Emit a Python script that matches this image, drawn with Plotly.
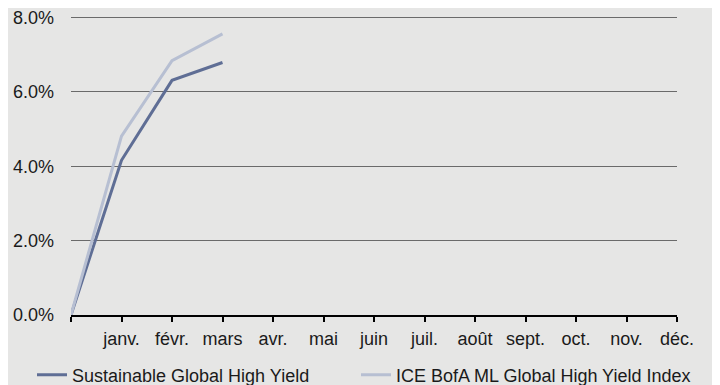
import plotly.graph_objects as go

# Data
month_labels = ["", "janv.", "févr.", "mars", "avr.", "mai", "juin", "juil.",
                "août", "sept.", "oct.", "nov.", "déc."]
month_pos = list(range(len(month_labels)))
obs_pos = [0, 1, 2, 3]
sustainable = [0.0, 4.16, 6.31, 6.79]
ice_index = [0.0, 4.81, 6.84, 7.56]
y_ticks = [0, 2, 4, 6, 8]

FONT = "Liberation Sans, Arial, sans-serif"
BG = "#e6e6e5"
W, H = 712, 377  # page body adds an 8px offset

fig = go.Figure()
fig.add_trace(go.Scatter(x=obs_pos, y=sustainable, mode="lines",
                         name="Sustainable Global High Yield",
                         legend="legend",
                         line=dict(color="#5f6e95", width=3)))
fig.add_trace(go.Scatter(x=obs_pos, y=ice_index, mode="lines",
                         name="ICE BofA ML Global High Yield Index",
                         legend="legend2",
                         line=dict(color="#b7bfd2", width=3)))

leg_common = dict(orientation="h", xref="container", yref="container",
                  xanchor="left", yanchor="middle",
                  bgcolor="rgba(0,0,0,0)", font=dict(size=18),
                  itemwidth=30)

fig.update_layout(
    width=W, height=H,
    paper_bgcolor=BG, plot_bgcolor=BG,
    margin=dict(l=63, r=43, t=8, b=70, autoexpand=False),
    font=dict(family=FONT, size=18, color="#1a1a1a"),
    showlegend=True,
    legend=dict(x=24 / W, y=10 / H, **leg_common),
    legend2=dict(x=348 / W, y=10 / H, **leg_common),
    xaxis=dict(range=[0, 12], tickmode="array", tickvals=month_pos,
               ticktext=month_labels, showgrid=False, zeroline=False,
               showline=True, linecolor="#000000", linewidth=2,
               ticks="outside", ticklen=5, tickwidth=2, tickcolor="#000000",
               ticklabelstandoff=1, fixedrange=True),
    yaxis=dict(range=[0, 8.04], tickmode="array", tickvals=y_ticks,
               ticktext=[f"{v:.1f}%" for v in y_ticks],
               showgrid=True, gridcolor="#6a6a6a", gridwidth=1,
               zeroline=False, showline=False, ticks="",
               ticklabelstandoff=16, ticklabeloverflow="allow",
               fixedrange=True),
)

fig.write_html("out.html")
